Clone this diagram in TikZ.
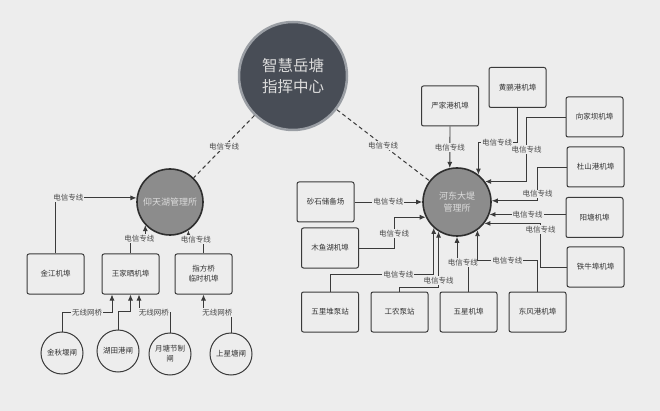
\documentclass[tikz,border=0pt]{standalone}
\usepackage{fontspec}
\setmainfont{Noto Sans CJK SC}
\usetikzlibrary{arrows.meta}

\definecolor{bgc}{HTML}{EDEDED}
\definecolor{linec}{HTML}{3A3A3A}
\definecolor{txtc}{HTML}{333333}
\definecolor{lblc}{HTML}{4A4A4A}
\definecolor{hubfill}{HTML}{8C8C8C}
\definecolor{hubline}{HTML}{2E2E2E}
\definecolor{hubtxt}{HTML}{DCDCDC}
\definecolor{ccfill}{HTML}{484D56}
\definecolor{ccline}{HTML}{9A9EA4}

\tikzset{
  box/.style={draw=linec, line width=1pt, rounded corners=2pt, fill=bgc,
    minimum width=57pt, minimum height=40pt, inner sep=1pt, align=center,
    font=\fontsize{7.5}{10}\selectfont, text=txtc},
  gate/.style={circle, draw=linec, line width=1pt, fill=bgc, minimum size=42pt,
    inner sep=0pt, align=center, font=\fontsize{7.5}{10}\selectfont, text=txtc},
  hub/.style={circle, draw=hubline, line width=1.6pt, fill=hubfill,
    inner sep=0pt, align=center, font=\fontsize{9}{11.5}\selectfont, text=hubtxt},
  link/.style={draw=linec, line width=0.9pt, -{Latex[length=6pt,width=5pt]}},
  dashline/.style={draw=linec, line width=1pt, dash pattern=on 4pt off 3pt},
  lbl/.style={fill=bgc, inner sep=1pt, font=\fontsize{7.5}{9}\selectfont, text=lblc}
}

\begin{document}
\begin{tikzpicture}[x=1pt, y=-1pt]
\fill[bgc] (0,0) rectangle (660,411);
\useasboundingbox (0,0) rectangle (660,411);

% command centre and the two offices
\node[circle, draw=ccline, line width=2.5pt, fill=ccfill, minimum size=108pt,
  inner sep=0pt, align=center, text=hubtxt, font=\fontsize{15.5}{21}\selectfont]
  (cc) at (293,76) {智慧岳塘\\指挥中心};
\node[hub, minimum size=66pt] (ya) at (170,202) {仰天湖管理所};
\node[hub, minimum size=68pt] (hd) at (457,202) {河东大堤\\管理所};

% left side
\node[box] (jj) at (55.5,274) {金江机埠};
\node[box] (wj) at (130.5,274) {王家晒机埠};
\node[box] (zf) at (203.5,274) {指方桥\\临时机埠};
\node[gate] (jq) at (62,353) {金秋堰闸};
\node[gate] (ht) at (118,351) {湖田港闸};
\node[gate] (yt) at (170,354) {月塘节制\\闸};
\node[gate] (sx) at (231,354) {上星塘闸};

% right side
\node[box] (ss) at (325.5,202) {砂石储备场};
\node[box] (my) at (330,248) {木鱼湖机埠};
\node[box] (yj) at (450,106) {严家港机埠};
\node[box] (hl) at (517.5,87.5) {黄鹂港机埠};
\node[box] (xj) at (594.5,117) {向家坝机埠};
\node[box] (ds) at (595.5,167) {杜山港机埠};
\node[box] (yg) at (594.5,217.5) {阳塘机埠};
\node[box] (tn) at (595.5,267) {铁牛埠机埠};
\node[box] (wld) at (330,312) {五里堆泵站};
\node[box] (gn) at (399.5,312) {工农泵站};
\node[box] (wx) at (468.5,312) {五星机埠};
\node[box] (df) at (537.5,312) {东风港机埠};

% dashed links from the centre
\draw[dashline] (cc) -- node[lbl]{电信专线} (ya);
\draw[dashline] (cc) -- node[lbl]{电信专线} (hd);

% left links
\draw[link] (jj.north) |- node[lbl,pos=.58]{电信专线} (ya.173);
\draw[link] (wj.north) -- ++(0,-15) -| node[lbl,pos=.3]{电信专线} (ya.223);
\draw[link] (zf.north) -- ++(0,-14) -| node[lbl,pos=.25]{电信专线} (ya.303);
\draw[link] (jq.north) -- ++(0,-19) -| node[lbl,pos=.25]{无线网桥} ([xshift=-18.5pt]wj.south);
\draw[link] (ht.north) -- ++(0,-18) -| (wj.south);
\draw[link] (yt.north) -- ++(0,-20) -| node[lbl,pos=.26]{无线网桥} ([xshift=8.5pt]wj.south);
\draw[link] (sx.north) -- ++(0,-20) -| node[lbl,pos=.25]{无线网桥} (zf.south);

% right links
\draw[link] (ss.east) -- node[lbl]{电信专线} (hd.west);
\draw[link] (yj.south) -- node[lbl]{电信专线} (hd.102);
\draw[link] (hl.south) -- ++(0,34.5) -| node[lbl,pos=.26]{电信专线} (hd.52);
\draw[link] (xj.west) -- ++(-39,0) |- node[lbl,pos=.25]{电信专线} (hd.36);
\draw[link] (ds.west) -- ++(-29,0) |- node[lbl,pos=.4]{电信专线} (hd.2);
\draw[link] (hd.339 -| yg.west) -- node[lbl]{电信专线} (hd.339);
\draw[link] (tn.west) -- ++(-26,0) |- node[lbl,pos=.43]{电信专线} (hd.322);
\draw[link] (my.east) -- ++(35,0) |- node[lbl,pos=.24]{电信专线} (hd.206);
\draw[link] (wld.north) -- ++(0,-17) -| node[lbl,pos=.33]{电信专线} (hd.228);
\draw[link] (gn.north) -- ++(0,-4) -| node[lbl,pos=.56]{电信专线} (hd.238);
\draw[link] (wx.north) -- ++(0,-29) -| node[lbl,pos=.25]{电信专线} (hd.270);
\draw[link] (df.north) -- ++(0,-31) -| node[lbl,pos=.25]{电信专线} (hd.306);
\end{tikzpicture}
\end{document}
